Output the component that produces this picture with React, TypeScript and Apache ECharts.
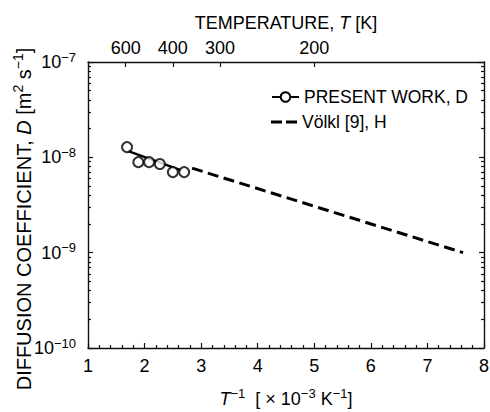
import React, { useEffect, useRef } from 'react';
import * as echarts from 'echarts';

const FONT = '"Liberation Sans", Arial, Helvetica, sans-serif';
const INK = '#000';
const FRAME = '#111';

// Reciprocal temperature (10^-3 K^-1) and diffusion coefficient (m^2 s^-1)
const presentInvT = [1.69, 1.89, 2.08, 2.27, 2.5, 2.7];
const presentD = [1.28e-8, 8.9e-9, 8.9e-9, 8.5e-9, 7.0e-9, 7.0e-9];

// Arrhenius fit through the present data
const fitInvT = [1.7, 2.65];
const fitD = [1.17e-8, 7.3e-9];

// Völkl [9], hydrogen
const volklInvT = [2.84, 7.63];
const volklD = [7.7e-9, 1.0e-9];

// Temperature ticks on the top axis (K)
const tempTicks = [600, 400, 300, 200];

// Decades of the log axis and the minor multipliers inside each decade
const decades = [-10, -9, -8, -7];
const minorMultipliers = [2, 3, 4, 5, 6, 7, 8, 9];

const PRESENT = 'PRESENT WORK, D';
const VOLKL = 'Völkl [9], H';

const zip = (xs: number[], ys: number[]) => xs.map((x, i) => [x, ys[i]]);

const txt = (extra: Record<string, unknown> = {}) => ({
  fontFamily: FONT,
  fontSize: 18,
  color: INK,
  ...extra,
});

const rich = {
  i: txt({ fontStyle: 'italic' }),
  sup: txt({ fontSize: 13, padding: [0, 0, 10, 0] }),
};

const richBig = {
  i: txt({ fontSize: 20, fontStyle: 'italic' }),
  sup: txt({ fontSize: 14, padding: [0, 0, 11, 0] }),
};

const minorLogValues = decades
  .slice(0, -1)
  .flatMap((n) => minorMultipliers.map((k) => n + Math.log10(k)));

const tempPositions = tempTicks.map((t) => 1000 / t);

const frameLine = { show: true, lineStyle: { color: FRAME, width: 1.4 } };
const tickLine = { color: FRAME, width: 1.2 };

const MAJOR = 5;
const MINOR = 3;

const option = {
  animation: false,
  backgroundColor: '#fff',
  textStyle: { fontFamily: FONT, color: INK },
  grid: {
    left: 88,
    right: 6,
    top: 62,
    bottom: 64,
    containLabel: false,
    outerBoundsMode: 'none',
  },
  legend: [
    {
      data: [PRESENT],
      left: 271,
      top: 88,
      padding: 0,
      itemWidth: 27,
      itemHeight: 12,
      selectedMode: false,
      textStyle: txt({ fontSize: 17.5 }),
    },
    {
      data: [{ name: VOLKL, icon: 'path://M0,0H11V3H0Z M15,0H26V3H15Z' }],
      left: 271,
      top: 113,
      padding: 0,
      itemWidth: 26,
      itemHeight: 3,
      selectedMode: false,
      itemStyle: { color: INK, borderWidth: 0 },
      textStyle: txt({ fontSize: 17.5 }),
    },
  ],
  xAxis: [
    {
      type: 'value',
      position: 'bottom',
      min: 1,
      max: 8,
      interval: 1,
      axisLine: { ...frameLine, onZero: false },
      axisTick: { show: true, inside: true, length: MAJOR, lineStyle: tickLine },
      minorTick: { show: true, splitNumber: 5, length: MINOR, lineStyle: tickLine },
      splitLine: { show: false },
      axisLabel: txt({ margin: 9 }),
      name: '{i|T}{sup|−1}  [ × 10{sup|−3} K{sup|−1}]',
      nameLocation: 'middle',
      nameGap: 39,
      nameTextStyle: txt({ rich }),
    },
    {
      type: 'value',
      position: 'top',
      min: 1,
      max: 8,
      axisLine: { ...frameLine, onZero: false },
      axisTick: {
        show: true,
        inside: true,
        length: MAJOR,
        lineStyle: tickLine,
        customValues: tempPositions,
      },
      splitLine: { show: false },
      axisLabel: txt({
        margin: 5,
        customValues: tempPositions,
        formatter: (v: number) => String(Math.round(1000 / v)),
      }),
      name: 'TEMPERATURE, {i|T} [K]',
      nameLocation: 'middle',
      nameGap: 30,
      nameTextStyle: txt({ rich }),
    },
  ],
  yAxis: [
    {
      type: 'log',
      position: 'left',
      min: 1e-10,
      max: 1e-7,
      logBase: 10,
      axisLine: frameLine,
      axisTick: { show: true, inside: true, length: MAJOR, lineStyle: tickLine },
      splitLine: { show: false },
      axisLabel: txt({
        margin: 12,
        formatter: (v: number) => `10{sup|−${-Math.round(Math.log10(v))}}`,
        rich,
      }),
      name: 'DIFFUSION COEFFICIENT, {i|D} [m{sup|2} s{sup|−1}]',
      nameLocation: 'middle',
      nameRotate: 90,
      nameGap: 52,
      nameMoveOverlap: false,
      nameTextStyle: txt({ fontSize: 20, rich: richBig, padding: [0, 28, 0, 0] }),
    },
    {
      type: 'log',
      position: 'right',
      min: 1e-10,
      max: 1e-7,
      logBase: 10,
      axisLine: frameLine,
      axisTick: { show: true, inside: true, length: MAJOR, lineStyle: tickLine },
      splitLine: { show: false },
      axisLabel: { show: false },
    },
    // Minor ticks of the decades, placed in log10 units
    ...(['left', 'right'] as const).map((pos) => ({
      type: 'value',
      position: pos,
      min: decades[0],
      max: decades[decades.length - 1],
      axisLine: { show: false },
      axisTick: {
        show: true,
        inside: true,
        length: MINOR,
        lineStyle: tickLine,
        customValues: minorLogValues,
      },
      axisLabel: { show: false },
      splitLine: { show: false },
    })),
  ],
  series: [
    {
      type: 'line',
      name: PRESENT,
      data: zip(fitInvT, fitD),
      symbol: 'emptyCircle',
      showSymbol: false,
      lineStyle: { color: INK, width: 2.5 },
      itemStyle: { color: INK },
      z: 2,
    },
    {
      type: 'scatter',
      name: PRESENT,
      data: zip(presentInvT, presentD),
      symbol: 'emptyCircle',
      symbolSize: 10,
      itemStyle: { color: INK, borderWidth: 2 },
      z: 3,
    },
    {
      type: 'line',
      name: VOLKL,
      data: zip(volklInvT, volklD),
      symbol: 'none',
      lineStyle: { color: INK, width: 3, type: [11, 5.5] },
      itemStyle: { color: INK },
      z: 2,
    },
  ],
};

export default function App() {
  const ref = useRef<HTMLDivElement>(null);

  useEffect(() => {
    if (!ref.current) return;
    const chart = echarts.init(ref.current, null, { renderer: 'svg' });
    chart.setOption(option as any);
    return () => chart.dispose();
  }, []);

  return (
    <div
      ref={ref}
      style={{ position: 'fixed', left: 0, top: 0, width: 490, height: 412, background: '#fff' }}
    />
  );
}
